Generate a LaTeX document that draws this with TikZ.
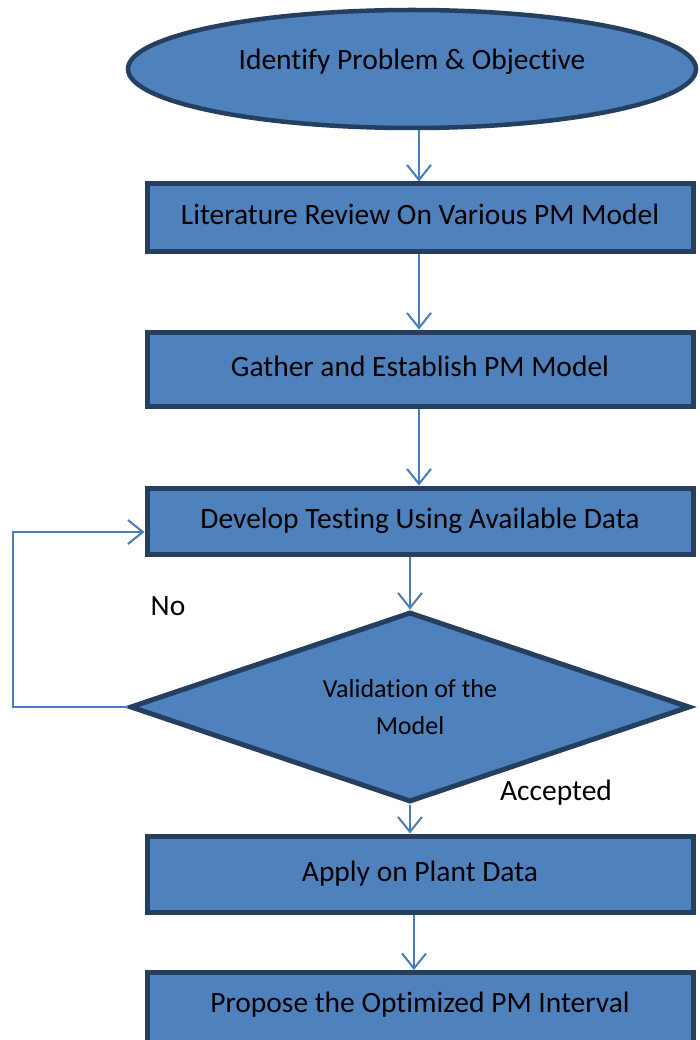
\documentclass[tikz,border=0pt]{standalone}
\usepackage{fontspec}
\setmainfont{Carlito}[Ligatures={NoCommon}]
\usetikzlibrary{shapes.geometric,arrows.meta}
\definecolor{boxfill}{HTML}{4F81BD}
\definecolor{boxline}{HTML}{243F60}
\definecolor{arrowc}{HTML}{4A7EBB}
\begin{document}
\begin{tikzpicture}[x=1pt,y=-1pt,
  stepbox/.style={draw=boxline, line width=5pt, fill=boxfill, minimum width=546pt,
    inner sep=0pt, text height=20pt, text depth=6pt, font=\fontsize{29.5}{34}\selectfont},
  conn/.style={draw=arrowc, line width=2pt, -{Straight Barb[length=15pt,width=24pt,line width=2pt]}},
  lbl/.style={font=\fontsize{29.5}{34}\selectfont, inner sep=0pt}]
\useasboundingbox (0,0) rectangle (700,1040);
\clip (0,0) rectangle (700,1040);

\node[ellipse, draw=boxline, line width=4.5pt, fill=boxfill, minimum width=568pt,
  minimum height=118pt, inner sep=0pt, text height=20pt, text depth=18pt,
  font=\fontsize{29.5}{34}\selectfont] (start) at (412,69) {Identify Problem \& Objective};

\node[stepbox, minimum height=68pt] (lit) at (420,218) {Literature Review On Various PM Model};
\node[stepbox, minimum height=74pt] (gather) at (420,369) {Gather and Establish PM Model};
\node[stepbox, minimum height=66pt] (dev) at (420,521) {Develop Testing Using Available Data};
\node[diamond, draw=boxline, line width=5pt, fill=boxfill, minimum width=560pt,
  minimum height=190pt, aspect=2.95, inner sep=0pt, align=center,
  font=\fontsize{26}{37}\selectfont] (val) at (410,707) {Validation of the\\Model};
\node[stepbox, minimum height=76pt] (apply) at (420,874) {Apply on Plant Data};
\node[stepbox, anchor=north, text height=40pt, text depth=50pt] (prop) at (420,970) {Propose the Optimized PM Interval};

\node[lbl] (no) at (168,606) {No};
\node[lbl] (acc) at (556,793) {Accepted};

\draw[conn] ([xshift=7pt]start.south) -- ([xshift=-1pt]lit.north);
\draw[conn] ([xshift=-1pt]lit.south) -- ([xshift=-1pt]gather.north);
\draw[conn] ([xshift=-1pt]gather.south) -- ([xshift=-1pt]dev.north);
\draw[conn] ([xshift=-10pt]dev.south) -- (val.north);
\draw[conn] (val.south) -- (val.south |- apply.north);
\draw[conn] ([xshift=-6pt]apply.south) -- ([xshift=-6pt]prop.north);
\draw[conn] (val.west) -- ++(-115,0) |- ([yshift=-11pt]dev.west);
\end{tikzpicture}
\end{document}
